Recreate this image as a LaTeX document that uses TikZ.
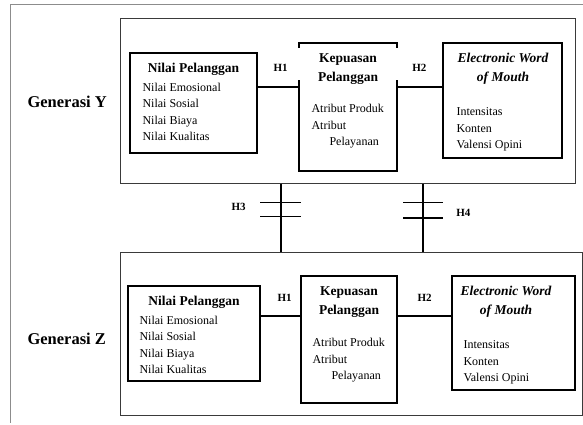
\documentclass[tikz,border=0pt]{standalone}
\usepackage{fontspec}
\setmainfont{Liberation Serif}
\usetikzlibrary{positioning}
\definecolor{framegray}{HTML}{8C8C8C}
\definecolor{groupgray}{HTML}{3A3A3A}

\newcommand{\bodyfont}{\fontsize{12}{16.5}\selectfont}
\newcommand{\titlefont}{\fontsize{13.5}{19.5}\selectfont\bfseries}
\newcommand{\genfont}{\fontsize{16.5}{20}\selectfont\bfseries}
\newcommand{\hypfont}{\fontsize{11}{13}\selectfont\bfseries}

\begin{document}
\begin{tikzpicture}[x=1pt, y=-1pt, line width=1.1pt,
  group/.style={draw=groupgray, line width=1pt, inner sep=0pt},
  box/.style={draw, line width=1.2pt, inner sep=0pt},
  title/.style={font=\titlefont, align=center, anchor=base, inner sep=0pt},
  items/.style={font=\bodyfont, align=left, anchor=base west, inner sep=0pt},
  gen/.style={font=\genfont, anchor=base west, inner sep=0pt},
  hyp/.style={font=\hypfont, anchor=base west, inner sep=0pt}]
  \useasboundingbox (0,0) rectangle (583,425);

  % Okraj stránky
  \draw[framegray, line width=0.8pt] (583,4) -- (10,4) -- (10,423);

  % Generasi Y (base = poslední řádek)
  \node[group, minimum width=455pt, minimum height=164pt] (grpY) at (347.5,101) {};
  \node[gen] (genY) at (27,108) {Generasi Y};
  \node[box, minimum width=127pt, minimum height=100pt] (nilaiY) at (193.5,103) {};
  \node[box, minimum width=98pt, minimum height=128pt] (kepY) at (348,107) {};
  \node[box, minimum width=119pt, minimum height=115pt] (ewomY) at (502.5,100.5) {};
  \fill[white] (296,48) rectangle (400,80);
  \node[title] (nilaiYt) at (193.5,73) {Nilai Pelanggan};
  \node[items] (nilaiYi) at (142,140.5) {Nilai Emosional\\Nilai Sosial\\Nilai Biaya\\Nilai Kualitas};
  \node[title] (kepYt) at (348,82) {Kepuasan\\Pelanggan};
  \node[items] (kepYi) at (311,146) {Atribut Produk\\Atribut\\\hspace*{18pt}Pelayanan};
  \node[title, font=\titlefont\itshape] (ewomYt) at (503,82) {Electronic Word\\of Mouth};
  \node[items] (ewomYi) at (456,148.7) {Intensitas\\Konten\\Valensi Opini};

  % Generasi Z
  \node[group, minimum width=462pt, minimum height=163pt] (grpZ) at (351,333.5) {};
  \node[gen] (genZ) at (27,344) {Generasi Z};
  \node[box, minimum width=132pt, minimum height=95pt] (nilaiZ) at (194,333.5) {};
  \node[box, minimum width=96pt, minimum height=127pt] (kepZ) at (349,339.5) {};
  \node[box, minimum width=123pt, minimum height=114pt] (ewomZ) at (513.5,333) {};
  \node[title] (nilaiZt) at (194,305) {Nilai Pelanggan};
  \node[items] (nilaiZi) at (139,373.5) {Nilai Emosional\\Nilai Sosial\\Nilai Biaya\\Nilai Kualitas};
  \node[title] (kepZt) at (349,314.5) {Kepuasan\\Pelanggan};
  \node[items] (kepZi) at (312,379.5) {Atribut Produk\\Atribut\\\hspace*{19pt}Pelayanan};
  \node[title, font=\titlefont\itshape] (ewomZt) at (506,314.5) {Electronic Word\\of Mouth};
  \node[items] (ewomZi) at (463,381.5) {Intensitas\\Konten\\Valensi Opini};

  % Hubungan H1, H2
  \coordinate (lnY) at (0,87);
  \coordinate (lnZ) at (0,316);
  \draw (nilaiY.east |- lnY) -- (kepY.west |- lnY);
  \draw (kepY.east |- lnY) -- (ewomY.west |- lnY);
  \draw (nilaiZ.east |- lnZ) -- (kepZ.west |- lnZ);
  \draw (kepZ.east |- lnZ) -- (ewomZ.west |- lnZ);
  \node[hyp] (h1Y) at (273,71.7) {H1};
  \node[hyp] (h2Y) at (411.7,71.7) {H2};
  \node[hyp] (h1Z) at (277,301) {H1};
  \node[hyp] (h2Z) at (417,301.5) {H2};

  % Srovnání generací H3, H4
  \coordinate (linkL) at (281,0);
  \coordinate (linkR) at (423,0);
  \draw (grpY.south -| linkL) -- (grpZ.north -| linkL);
  \draw (grpY.south -| linkR) -- (grpZ.north -| linkR);
  \draw (260,202.5) -- (301,202.5);
  \draw (260,216.7) -- (301,216.7);
  \draw (403,202.5) -- (443,202.5);
  \draw (403,218) -- (443,218);
  \node[hyp] (h3) at (231,210.7) {H3};
  \node[hyp] (h4) at (455.7,216) {H4};
\end{tikzpicture}
\end{document}
